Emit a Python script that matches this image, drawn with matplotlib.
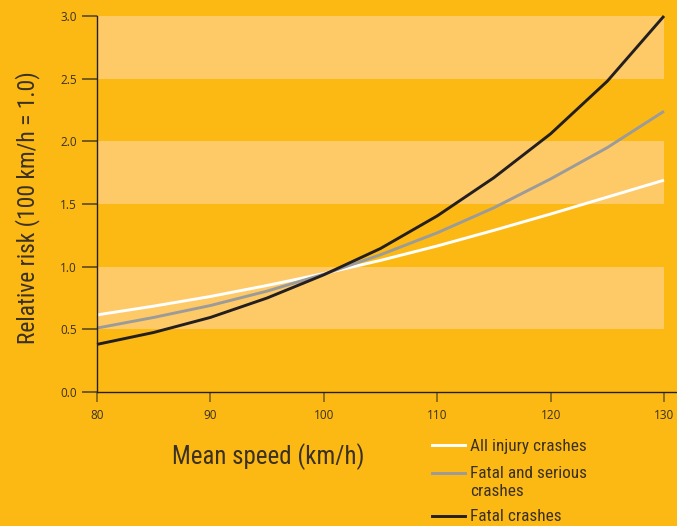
import matplotlib
matplotlib.use("Agg")
import matplotlib.pyplot as plt
from matplotlib import font_manager
from matplotlib.font_manager import FontProperties
from matplotlib.lines import Line2D

# values
speed = [80, 85, 90, 95, 100, 105, 110, 115, 120, 125, 130]
all_injury = [0.615, 0.685, 0.762, 0.85, 0.945, 1.05, 1.165, 1.29, 1.42, 1.555, 1.69]
fatal_serious = [0.51, 0.595, 0.69, 0.805, 0.94, 1.095, 1.27, 1.47, 1.70, 1.95, 2.24]
fatal = [0.38, 0.475, 0.595, 0.75, 0.935, 1.145, 1.405, 1.71, 2.06, 2.48, 3.00]

series_labels = ["All injury crashes", "Fatal and serious\ncrashes", "Fatal crashes"]
x_ticks = [80, 90, 100, 110, 120, 130]
y_ticks = [0.0, 0.5, 1.0, 1.5, 2.0, 2.5, 3.0]
band_ranges = [(0.5, 1.0), (1.5, 2.0), (2.5, 3.0)]

ORANGE = "#FDB913"
BAND = "#FECA68"
TEXT = "#3a3122"
TICK = "#74591a"
DARK = "#231f20"
colors = ["#ffffff", "#9b9b9a", DARK]


def pick_narrow_font():
    # the original uses a condensed humanist face; take the closest one installed
    entries = font_manager.fontManager.ttflist
    prefs = [
        ("Open Sans", "condensed", 1.0),
        ("Noto Sans", "condensed", 1.0),
        ("Roboto Condensed", None, 1.02),
        ("Open Sans Condensed", None, 1.0),
        ("Noto Sans Condensed", None, 1.0),
        ("DejaVu Sans", "condensed", 0.92),
        ("Liberation Sans Narrow", None, 1.0),
    ]
    for name, stretch, scale in prefs:
        for f in entries:
            if f.name != name or f.style != "normal":
                continue
            if f.weight not in (400, "normal", "regular"):
                continue
            if stretch and f.stretch != stretch:
                continue
            return FontProperties(fname=f.fname), scale
    return None, None


narrow_fp, narrow_scale = pick_narrow_font()
plain = ["Open Sans", "DejaVu Sans"]


def narrow_text(size):
    if narrow_fp is not None:
        fp = narrow_fp.copy()
        fp.set_size(size * narrow_scale)
    else:
        fp = FontProperties(family=plain, size=size * 0.8)
    return fp


W, H = 677, 526
fig = plt.figure(figsize=(W / 100, H / 100), dpi=100, facecolor=ORANGE)
ax = fig.add_axes([97 / W, 134 / H, 580 / W, 376 / H])
ax.set_facecolor(ORANGE)

for lo, hi in band_ranges:
    ax.fill_between([speed[0], speed[-1]], lo, hi, color=BAND, lw=0, zorder=1)

for vals, c in zip([all_injury, fatal_serious, fatal], colors):
    ax.plot(speed, vals, color=c, lw=2.1, zorder=3, clip_on=False,
            solid_capstyle="butt", solid_joinstyle="round")

ax.set_xlim(80, 80 + 580 / 11.34)
ax.set_ylim(0, 3.0)
ax.set_xticks(x_ticks)
ax.set_yticks(y_ticks)
ax.set_yticklabels([f"{v:.1f}" for v in y_ticks])

for s in ["top", "right"]:
    ax.spines[s].set_visible(False)
for s in ["left", "bottom"]:
    ax.spines[s].set_color(DARK)
    ax.spines[s].set_linewidth(1.0)
    ax.spines[s].set_zorder(4)

ax.tick_params(axis="y", direction="out", length=10.8, width=1.4, color=TICK,
               pad=3.6, labelsize=8.5, labelcolor=TEXT)
ax.tick_params(axis="x", direction="out", length=7.2, width=1.1, color=TICK,
               pad=5, labelsize=8.5, labelcolor=TEXT)
for lab in ax.get_xticklabels() + ax.get_yticklabels():
    lab.set_family(plain)

ax.set_ylabel("Relative risk (100 km/h = 1.0)", color=TEXT,
              fontproperties=narrow_text(16.6))
ax.yaxis.set_label_coords(-0.098, 0.49)
ax.set_xlabel("Mean speed (km/h)", color=TEXT, fontproperties=narrow_text(17.6))
ax.xaxis.set_label_coords(0.295, -0.135)

# legend drawn by hand so the handle sits on the first text line
line_y = [445, 472.5, 515.5]
text_y = [450.7, 478.3, 520.7]
for lab, c, ly, ty in zip(series_labels, colors, line_y, text_y):
    fig.add_artist(Line2D([432 / W, 465 / W], [1 - ly / H, 1 - ly / H],
                          color=c, lw=2.1, transform=fig.transFigure))
    for i, part in enumerate(lab.split("\n")):
        fig.text(470 / W, 1 - (ty + i * 17.4) / H, part, color=TEXT,
                 fontproperties=narrow_text(12.2), ha="left", va="baseline")

fig.savefig("out.png", dpi=100, facecolor=ORANGE)
